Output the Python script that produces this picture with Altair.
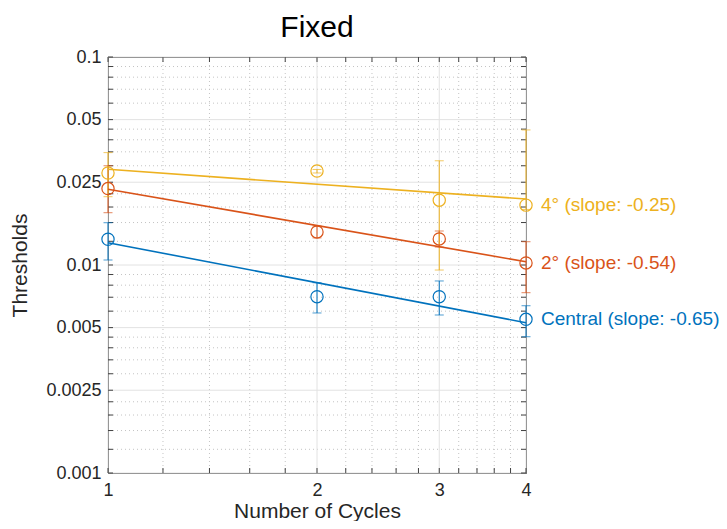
import altair as alt
import pandas as pd

# ---------------- data ----------------
cycles = [1, 2, 3, 4]
series = ["Central", "2°", "4°"]
colors = ["#0072BD", "#D95319", "#EDB120"]

central_mean = [0.0133, 0.00704, 0.00704, 0.00548]
central_lo = [0.01057, 0.00588, 0.00575, 0.00452]
central_hi = [0.01597, 0.00822, 0.00838, 0.00637]

deg2_mean = [0.0233, 0.01442, 0.01334, 0.01023]
deg2_lo = [0.01784, 0.0135, 0.0122, 0.00736]
deg2_hi = [0.0300, 0.0154, 0.01457, 0.01294]

deg4_mean = [0.02768, 0.0283, 0.0205, 0.0194]
deg4_lo = [0.0213, 0.0277, 0.00946, 0.0185]
deg4_hi = [0.0347, 0.0288, 0.0317, 0.0446]

fit_x = [1, 4]
central_fit = [0.0128, 0.00528]
deg2_fit = [0.02312, 0.01037]
deg4_fit = [0.02884, 0.02076]

slope_labels = ["Central (slope: -0.65)", "2° (slope: -0.54)", "4° (slope: -0.25)"]

x_major = [1, 2, 3, 4]
x_minor = [1.2, 1.4, 1.6, 1.8, 2.2, 2.4, 2.6, 2.8, 3.2, 3.4, 3.6, 3.8]
y_major = [0.001, 0.0025, 0.005, 0.01, 0.025, 0.05, 0.1]
y_minor = [0.0013, 0.0016, 0.0019, 0.0022,
           0.003, 0.0035, 0.004, 0.0045,
           0.006, 0.007, 0.008, 0.009,
           0.013, 0.016, 0.019, 0.022,
           0.03, 0.035, 0.04, 0.045,
           0.06, 0.07, 0.08, 0.09]

# ---------------- tables ----------------
means = [central_mean, deg2_mean, deg4_mean]
los = [central_lo, deg2_lo, deg4_lo]
his = [central_hi, deg2_hi, deg4_hi]
fits = [central_fit, deg2_fit, deg4_fit]

pts = pd.DataFrame([
    {"s": s, "x": c, "m": m, "lo": lo, "hi": hi}
    for s, ms, ls, hs in zip(series, means, los, his)
    for c, m, lo, hi in zip(cycles, ms, ls, hs)
])
fit_df = pd.DataFrame([
    {"s": s, "x": xv, "m": yv}
    for s, f in zip(series, fits)
    for xv, yv in zip(fit_x, f)
])
lab_df = pd.DataFrame([
    {"s": s, "x": cycles[-1], "m": ms[-1], "t": t}
    for s, ms, t in zip(series, means, slope_labels)
])

W, H = 418, 416
FONT = "Liberation Sans"
TXT = "#262626"

xs = alt.Scale(type="log", domain=[1, 4], nice=False)
ys = alt.Scale(type="log", domain=[0.001, 0.1], nice=False)
cs = alt.Scale(domain=series, range=colors)

xmaj = pd.DataFrame({"x": x_major})
xmin = pd.DataFrame({"x": x_minor})
ymaj = pd.DataFrame({"m": y_major})
ymin = pd.DataFrame({"m": y_minor})
xall = pd.DataFrame({"x": x_major + x_minor})
yall = pd.DataFrame({"m": y_major + y_minor})

x_axis = alt.Axis(values=x_major, format="~g", ticks=False, domain=False, grid=False,
                  labelFont=FONT, labelFontSize=18, labelColor=TXT, labelPadding=8,
                  labelFlush=False, labelOverlap=False,
                  title="Number of Cycles", titleFont=FONT, titleFontSize=21,
                  titleFontWeight="normal", titleColor=TXT,
                  titleY=44, titleBaseline="alphabetic")
y_axis = alt.Axis(values=y_major, format="~g", ticks=False, domain=False, grid=False,
                  labelFont=FONT, labelFontSize=18, labelColor=TXT, labelPadding=7,
                  labelFlush=False, labelOverlap=False,
                  title="Thresholds", titleFont=FONT, titleFontSize=21,
                  titleFontWeight="normal", titleColor=TXT,
                  titleX=-88, titleBaseline="middle")


def X(field="x:Q"):
    return alt.X(field, scale=xs, axis=x_axis, title="Number of Cycles")


def Y(field="m:Q"):
    return alt.Y(field, scale=ys, axis=y_axis, title="Thresholds")


# grids
gx_minor = alt.Chart(xmin).mark_rule(color="#c4c4c4", strokeDash=[1, 3], strokeWidth=1).encode(x=X())
gy_minor = alt.Chart(ymin).mark_rule(color="#c4c4c4", strokeDash=[1, 3], strokeWidth=1).encode(y=Y())
gx_major = alt.Chart(xmaj).mark_rule(color="#e2e2e2", strokeWidth=1).encode(x=X())
gy_major = alt.Chart(ymaj).mark_rule(color="#e2e2e2", strokeWidth=1).encode(y=Y())

# inward ticks on all four sides
TK = "#404040"
tb = alt.Chart(xall).mark_rule(color=TK, strokeWidth=1).encode(
    x=X(), y=alt.value(H), y2=alt.value(H - 5))
tt = alt.Chart(xall).mark_rule(color=TK, strokeWidth=1).encode(
    x=X(), y=alt.value(0), y2=alt.value(5))
tl = alt.Chart(yall).mark_rule(color=TK, strokeWidth=1).encode(
    y=Y(), x=alt.value(0), x2=alt.value(5))
tr = alt.Chart(yall).mark_rule(color=TK, strokeWidth=1).encode(
    y=Y(), x=alt.value(W - 5), x2=alt.value(W))

col = alt.Color("s:N", scale=cs, legend=None)

ebar = alt.Chart(pts).mark_rule(strokeWidth=1).encode(
    x=X(), y=Y("lo:Q"), y2="hi:Q", color=col)
cap_lo = alt.Chart(pts).mark_tick(orient="horizontal", size=9, thickness=1).encode(
    x=X(), y=Y("lo:Q"), color=col)
cap_hi = alt.Chart(pts).mark_tick(orient="horizontal", size=9, thickness=1).encode(
    x=X(), y=Y("hi:Q"), color=col)

lines = alt.Chart(fit_df).mark_line(strokeWidth=1.6).encode(
    x=X(), y=Y(), color=col, detail="s:N")

points = alt.Chart(pts).mark_point(shape="circle", filled=False, size=150, strokeWidth=1.2,
                                   opacity=1).encode(x=X(), y=Y(), color=col)

labels = alt.Chart(lab_df).mark_text(align="left", baseline="middle", dx=15,
                                     font=FONT, fontSize=19).encode(
    x=X(), y=Y(), text="t:N", color=col)

chart = alt.layer(
    gx_minor, gy_minor, gx_major, gy_major, tb, tt, tl, tr,
    ebar, cap_lo, cap_hi, lines, points, labels
).properties(
    width=W, height=H,
    title=alt.Title("Fixed", font=FONT, fontSize=30, fontWeight="normal", color="#000000",
                    anchor="middle", offset=5),
    autosize=alt.AutoSizeParams(type="none"),
    padding={"left": 100, "top": 49, "right": 193, "bottom": 48},
).configure_view(stroke="#4d4d4d", strokeWidth=1)

chart.save("out.html", embed_options={"renderer": "svg", "actions": False})
